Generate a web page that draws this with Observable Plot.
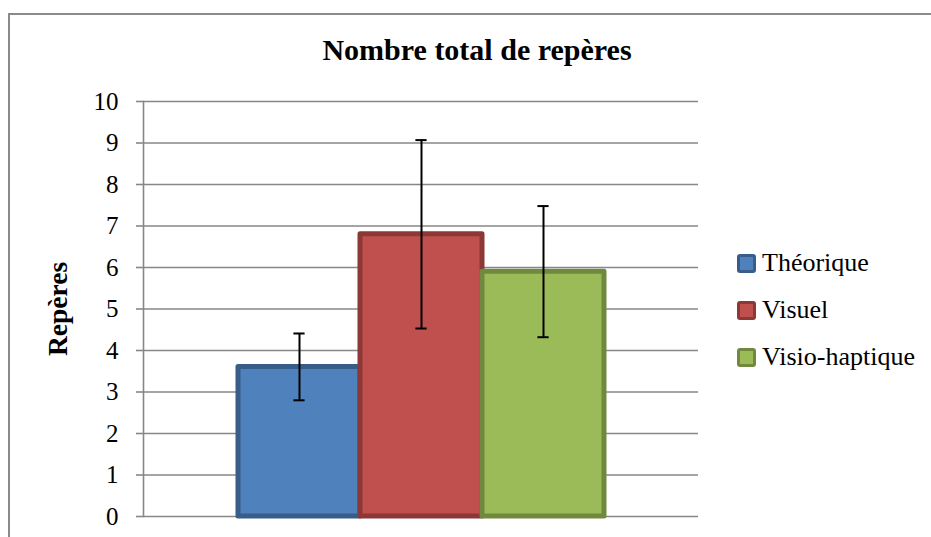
<!DOCTYPE html>
<html>
<head>
<meta charset="utf-8">
<script src="https://cdn.jsdelivr.net/npm/d3@7"></script>
<script src="https://cdn.jsdelivr.net/npm/@observablehq/plot@0.6"></script>
<style>
  html, body { margin: 0; padding: 0; background: #fff; overflow: hidden; }
  #wrap { position: relative; width: 931px; height: 537px; }
  #border { position: absolute; left: 8px; top: 13px; width: 1200px; height: 1200px; border: 2px solid #8a8a8a; box-sizing: border-box; pointer-events: none; }
  #legend { position: absolute; left: 737px; top: 239.5px; font-family: "Liberation Serif", "Times New Roman", serif; font-size: 26px; color: #000; }
  .item { display: flex; align-items: center; height: 47px; }
  .sw { width: 19px; height: 19px; box-sizing: border-box; border: 3.5px solid; border-radius: 3px; margin-right: 6px; flex: none; }
</style>
</head>
<body>
<div id="wrap"><div id="border"></div></div>
<script>
// ---- data ----
const series = ["Théorique", "Visuel", "Visio-haptique"];
const values = [3.6, 6.8, 5.9];
const lower = [2.8, 4.53, 4.32];
const upper = [4.41, 9.07, 7.48];
const yTicks = [0, 1, 2, 3, 4, 5, 6, 7, 8, 9, 10];
const title = "Nombre total de repères";
const yLabel = "Repères";

// ---- styles ----
const fills = ["#4F81BD", "#C0504D", "#9BBB59"];
const strokes = ["#385D8A", "#8C3836", "#71893F"];
const gridColor = "#878787";

const rows = series.map((s, i) => ({series: s, value: values[i], lo: lower[i], hi: upper[i], fill: fills[i], stroke: strokes[i]}));

const chart = Plot.plot({
  width: 931,
  height: 537,
  marginLeft: 143,
  marginRight: 233,
  marginTop: 101,
  marginBottom: 21,
  style: {fontFamily: "'Liberation Serif', 'Times New Roman', serif", fontSize: "25px", color: "#000", background: "transparent", overflow: "visible"},
  x: {domain: series, range: [236.5, 605], padding: 0, axis: null},
  y: {domain: [0, 10]},
  color: {type: "identity"},
  marks: [
    Plot.gridY(yTicks, {stroke: gridColor, strokeOpacity: 1, strokeWidth: 1.6}),
    Plot.axisY(yTicks, {tickSize: 7, tickPadding: 18, stroke: gridColor, strokeOpacity: 1, strokeWidth: 1.6, label: null, fontSize: 25}),
    Plot.frame({anchor: "left", stroke: gridColor, strokeWidth: 1.6}),
    Plot.barY(rows, {x: "series", y: "value", fill: "fill", stroke: "stroke", strokeWidth: 5, strokeLinejoin: "round"}),
    Plot.ruleX(rows, {x: "series", y1: "lo", y2: "hi", stroke: "#000", strokeWidth: 2}),
    Plot.tickY(rows, {x: "series", y: "lo", stroke: "#000", strokeWidth: 2, insetLeft: 55.4, insetRight: 55.4}),
    Plot.tickY(rows, {x: "series", y: "hi", stroke: "#000", strokeWidth: 2, insetLeft: 55.4, insetRight: 55.4}),
    Plot.text([title], {frameAnchor: "top", lineAnchor: "middle", textAnchor: "middle", dx: 56, dy: -51, fontWeight: "bold", fontSize: 30}),
    Plot.text([yLabel], {frameAnchor: "left", lineAnchor: "middle", textAnchor: "middle", dx: -85.5, rotate: -90, fontWeight: "bold", fontSize: 27.5})
  ]
});

const wrap = document.getElementById("wrap");
wrap.insertBefore(chart, wrap.firstChild);

const legend = document.createElement("div");
legend.id = "legend";
series.forEach((s, i) => {
  const item = document.createElement("div");
  item.className = "item";
  const sw = document.createElement("span");
  sw.className = "sw";
  sw.style.background = fills[i];
  sw.style.borderColor = strokes[i];
  const label = document.createElement("span");
  label.textContent = s;
  item.appendChild(sw);
  item.appendChild(label);
  legend.appendChild(item);
});
wrap.appendChild(legend);
</script>
</body>
</html>
